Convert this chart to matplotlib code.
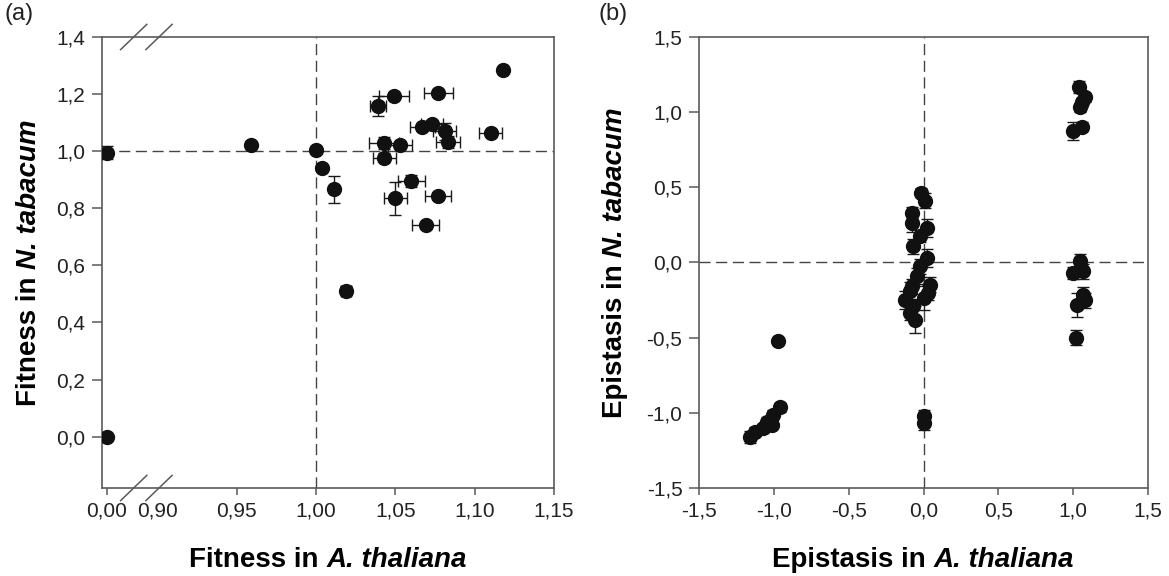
import numpy as np
import matplotlib
matplotlib.use("Agg")
import matplotlib.pyplot as plt
from matplotlib.ticker import FuncFormatter

plt.rcParams['font.family'] = ['Liberation Sans', 'DejaVu Sans']

# (a) fitness of the mutants in both hosts
fit_at = [0.000, 0.000, 0.959, 1.000, 1.004, 1.011, 1.019, 1.039, 1.049, 1.043, 1.043, 1.053,
          1.050, 1.060, 1.067, 1.073, 1.077, 1.081, 1.083, 1.077, 1.069, 1.110, 1.118]
fit_nt = [0.995, 0.000, 1.023, 1.005, 0.940, 0.866, 0.511, 1.159, 1.193, 1.028, 0.977, 1.021,
          0.835, 0.896, 1.084, 1.094, 1.205, 1.069, 1.032, 0.843, 0.740, 1.063, 1.284]
fit_at_err = [0.0, 0.0, 0.002, 0.001, 0.001, 0.002, 0.003, 0.005, 0.0095, 0.0095, 0.0071, 0.0074,
              0.0074, 0.0084, 0.0080, 0.0070, 0.0091, 0.0074, 0.0074, 0.0083, 0.0084, 0.0074, 0.002]
fit_nt_err = [0.024, 0.0, 0.010, 0.005, 0.010, 0.046, 0.015, 0.035, 0.010, 0.020, 0.015, 0.010,
              0.057, 0.020, 0.010, 0.010, 0.010, 0.030, 0.020, 0.010, 0.010, 0.010, 0.010]

# (b) epistasis in both hosts
epi_at = [-0.975, -0.959, -1.004, -1.015, -1.048, -1.071, -1.126, -1.160,
          -0.019, 0.010, -0.079, -0.079, 0.021, -0.023, -0.068, 0.021, -0.023, -0.045, 0.043,
          -0.079, -0.090, 0.032, 0.000, -0.124, -0.068, -0.090, -0.057, 0.000, 0.000,
          1.041, 1.080, 1.057, 1.046, 1.001, 1.057,
          1.046, 0.997, 1.068, 1.064, 1.080, 1.024, 1.020]
epi_nt = [-0.525, -0.962, -1.013, -1.080, -1.058, -1.102, -1.125, -1.158,
          0.465, 0.410, 0.330, 0.265, 0.230, 0.175, 0.109, 0.030, -0.025, -0.090, -0.147,
          -0.158, -0.190, -0.200, -0.235, -0.247, -0.290, -0.335, -0.380, -1.020, -1.065,
          1.170, 1.100, 1.065, 1.031, 0.877, 0.903,
          0.009, -0.069, -0.058, -0.213, -0.250, -0.280, -0.502]
epi_at_err = [0.005, 0.01, 0.01, 0.01, 0.01, 0.01, 0.01, 0.01,
              0.01, 0.01, 0.01, 0.01, 0.01, 0.01, 0.01, 0.01, 0.01, 0.01, 0.01,
              0.01, 0.01, 0.01, 0.01, 0.01, 0.01, 0.01, 0.01, 0.01, 0.01,
              0.01, 0.01, 0.01, 0.01, 0.01, 0.01,
              0.01, 0.01, 0.01, 0.01, 0.01, 0.01, 0.01]
epi_nt_err = [0.01, 0.03, 0.03, 0.03, 0.03, 0.03, 0.03, 0.04,
              0.03, 0.05, 0.04, 0.06, 0.06, 0.04, 0.05, 0.06, 0.05, 0.05, 0.05,
              0.05, 0.06, 0.05, 0.08, 0.06, 0.05, 0.05, 0.09, 0.04, 0.05,
              0.04, 0.03, 0.03, 0.03, 0.06, 0.03,
              0.05, 0.04, 0.05, 0.05, 0.05, 0.08, 0.05]

fit_xticks = [0.00, 0.90, 0.95, 1.00, 1.05, 1.10, 1.15]
fit_yticks = [0.0, 0.2, 0.4, 0.6, 0.8, 1.0, 1.2, 1.4]
epi_ticks = [-1.5, -1.0, -0.5, 0.0, 0.5, 1.0, 1.5]

SPINE = '#5a5a5a'
TXT = '#222222'
W, H = 1169, 576

# broken x axis: squeeze the 0.01-0.88 gap
XP = [-1.0, 0.01, 0.88, 2.0]
FP = [-1.0, 0.01, 0.012, 2.0 - 0.868]


def fwd(x):
    return np.interp(x, XP, FP)


def inv(y):
    return np.interp(y, FP, XP)


def comma(nd):
    return FuncFormatter(lambda v, p: f"{v:.{nd}f}".replace('.', ','))


def style_axes(ax):
    for s in ax.spines.values():
        s.set_color(SPINE)
        s.set_linewidth(1.2)
    ax.tick_params(axis='both', direction='out', color=SPINE, width=1.1,
                   labelsize=15, labelcolor=TXT, pad=5)
    ax.tick_params(axis='x', length=5)
    ax.tick_params(axis='y', length=7)


def draw_points(ax, x, y, xe, ye):
    ax.errorbar(x, y, xerr=xe, yerr=ye, fmt='o', ms=10, color='#111111',
                ecolor='#1a1a1a', elinewidth=1.0, capsize=4, capthick=1.0, zorder=3)


def mixed_label(fig, plain, species, cx, cy, vertical=False):
    # bold text followed by a bold italic species name; cx, cy in pixels from top-left
    kw = dict(fontsize=20, fontweight='bold', color='black')
    r = fig.canvas.get_renderer()
    probe = [fig.text(0, 0, s, style=st, **kw) for s, st in
             ((plain, 'normal'), (species, 'italic'), ('a a', 'normal'), ('aa', 'normal'))]
    w = [p.get_window_extent(r).width for p in probe]
    for p in probe:
        p.remove()
    gap = w[2] - w[3]
    total = w[0] + gap + w[1]
    if vertical:
        y0 = cy + total / 2
        fig.text(cx / W, 1 - y0 / H, plain, rotation=90, rotation_mode='anchor',
                 ha='left', va='baseline', **kw)
        fig.text(cx / W, 1 - (y0 - w[0] - gap) / H, species, style='italic', rotation=90,
                 rotation_mode='anchor', ha='left', va='baseline', **kw)
    else:
        x0 = cx - total / 2
        fig.text(x0 / W, 1 - cy / H, plain, ha='left', va='baseline', **kw)
        fig.text((x0 + w[0] + gap) / W, 1 - cy / H, species, style='italic',
                 ha='left', va='baseline', **kw)


fig = plt.figure(figsize=(W / 100, H / 100), dpi=100)
ax1 = fig.add_axes([0.0873, 0.1528, 0.3867, 0.783])
ax2 = fig.add_axes([0.598, 0.1528, 0.384, 0.783])

# panel (a)
ax1.set_xscale('function', functions=(fwd, inv))
ax1.axhline(1.0, ls=(0, (8, 4)), color='#444444', lw=1.0, zorder=1)
ax1.axvline(1.0, ls=(0, (8, 4)), color='#444444', lw=1.0, zorder=1)
draw_points(ax1, fit_at, fit_nt, fit_at_err, fit_nt_err)
ax1.set_xlim(-0.0029, 1.15)
ax1.set_ylim(-0.18, 1.4)
ax1.set_xticks(fit_xticks)
ax1.set_yticks(fit_yticks)
ax1.xaxis.set_major_formatter(comma(2))
ax1.yaxis.set_major_formatter(comma(1))
style_axes(ax1)
ax1.xaxis.get_major_ticks()[1].tick1line.set_visible(False)

# break marks on top and bottom spines
for cx in (0.070, 0.126):
    for cy in (0.0, 1.0):
        ax1.plot([cx - 0.029, cx + 0.029], [cy - 0.028, cy + 0.028], color=SPINE, lw=1.1,
                 transform=ax1.transAxes, clip_on=False, zorder=5)

# panel (b)
ax2.axhline(0.0, ls=(0, (8, 4)), color='#444444', lw=1.0, zorder=1)
ax2.axvline(0.0, ls=(0, (8, 4)), color='#444444', lw=1.0, zorder=1)
draw_points(ax2, epi_at, epi_nt, epi_at_err, epi_nt_err)
ax2.set_xlim(-1.5, 1.5)
ax2.set_ylim(-1.5, 1.5)
ax2.set_xticks(epi_ticks)
ax2.set_yticks(epi_ticks)
ax2.xaxis.set_major_formatter(comma(1))
ax2.yaxis.set_major_formatter(comma(1))
style_axes(ax2)

mixed_label(fig, "Fitness in", "A. thaliana", 328, 567)
mixed_label(fig, "Fitness in", "N. tabacum", 36, 263, vertical=True)
mixed_label(fig, "Epistasis in", "A. thaliana", 923, 567)
mixed_label(fig, "Epistasis in", "N. tabacum", 622, 263, vertical=True)

fig.text(5 / W, 1 - 3 / H, "(a)", fontsize=17, color=TXT, ha='left', va='top')
fig.text(598 / W, 1 - 3 / H, "(b)", fontsize=17, color=TXT, ha='left', va='top')

fig.savefig("out.png", dpi=100)
